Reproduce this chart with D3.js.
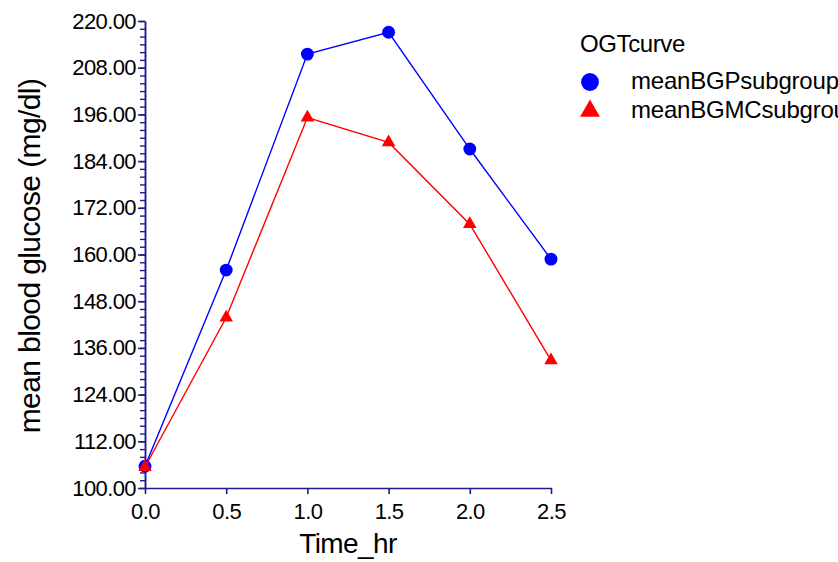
<!DOCTYPE html>
<html>
<head>
<meta charset="utf-8">
<script src="https://cdn.jsdelivr.net/npm/d3@7/dist/d3.min.js"></script>
<style>
  html, body { margin: 0; padding: 0; background: #ffffff; }
  svg { display: block; font-family: "Liberation Sans", Arial, sans-serif; }
</style>
</head>
<body>
<svg id="chart" width="838" height="562"></svg>
<script>
// Oral glucose tolerance curve: mean blood glucose per subgroup over time
const timeHr = [0.0, 0.5, 1.0, 1.5, 2.0, 2.5];
const meanBGPsubgroup = [105.6, 156.0, 211.5, 217.1, 187.1, 158.8];
const meanBGMCsubgroup = [105.4, 143.8, 195.2, 188.8, 167.8, 132.8];
const seriesNames = ["meanBGPsubgroup", "meanBGMCsubgroup"];
const yMajorTicks = [100, 112, 124, 136, 148, 160, 172, 184, 196, 208, 220];
const xTicks = [0.0, 0.5, 1.0, 1.5, 2.0, 2.5];

const axisColor = "#1c1c8c";
const svg = d3.select("#chart");

const x = d3.scaleLinear().domain([0, 2.5]).range([145, 551]);
const y = d3.scaleLinear().domain([100, 220]).range([488, 21]);

// minor y ticks every 2 units
const yMinor = d3.axisLeft(y).tickValues(d3.range(100, 221, 2)).tickSize(5).tickSizeOuter(0).tickFormat("");
svg.append("g").attr("transform", "translate(145,0)").call(yMinor)
  .call(g => g.selectAll("line,path").attr("stroke", axisColor).attr("stroke-width", 1.4));

// major y ticks with labels
const yAxis = d3.axisLeft(y).tickValues(yMajorTicks).tickSize(7).tickSizeOuter(0).tickPadding(2)
  .tickFormat(d3.format(".2f"));
svg.append("g").attr("transform", "translate(145,0)").call(yAxis)
  .call(g => g.selectAll("line,path").attr("stroke", axisColor).attr("stroke-width", 1.6))
  .call(g => g.selectAll("text").attr("fill", "#000").style("font-size", "22px")
    .style("letter-spacing", "-0.6px").attr("font-family", null));

// x axis
const xAxis = d3.axisBottom(x).tickValues(xTicks).tickSize(6).tickSizeOuter(0).tickPadding(9)
  .tickFormat(d3.format(".1f"));
svg.append("g").attr("transform", "translate(0,488)").call(xAxis)
  .call(g => g.selectAll("line,path").attr("stroke", axisColor).attr("stroke-width", 1.6))
  .call(g => g.selectAll("text").attr("fill", "#000").style("font-size", "22px")
    .style("letter-spacing", "-0.6px").attr("font-family", null));

// axis titles
svg.append("text")
  .attr("transform", "translate(40,256) rotate(-90)")
  .attr("text-anchor", "middle")
  .style("font-size", "30px").style("letter-spacing", "-0.6px")
  .text("mean blood glucose (mg/dl)");

svg.append("text")
  .attr("x", 348).attr("y", 553)
  .attr("text-anchor", "middle")
  .style("font-size", "28px").style("letter-spacing", "-0.6px")
  .text("Time_hr");

// series
const series = [
  { name: seriesNames[0], values: meanBGPsubgroup, color: "#0000ff", symbol: d3.symbolCircle, size: 130, legendSize: 250 },
  { name: seriesNames[1], values: meanBGMCsubgroup, color: "#ff0000", symbol: d3.symbolTriangle, size: 80, legendSize: 170 }
];

const line = d3.line().x((d, i) => x(timeHr[i])).y(d => y(d));

series.forEach(s => {
  svg.append("path")
    .attr("d", line(s.values))
    .attr("fill", "none")
    .attr("stroke", s.color)
    .attr("stroke-width", 1.4);
  svg.append("g").selectAll("path")
    .data(s.values)
    .join("path")
    .attr("transform", (d, i) => `translate(${x(timeHr[i])},${y(d)})`)
    .attr("d", d3.symbol().type(s.symbol).size(s.size))
    .attr("fill", s.color);
});

// legend
const legend = svg.append("g");
legend.append("text")
  .attr("x", 580).attr("y", 52)
  .style("font-size", "24px").style("letter-spacing", "-0.4px")
  .text("OGTcurve");

series.forEach((s, i) => {
  const cy = 82 + i * 29;
  legend.append("path")
    .attr("transform", `translate(590,${cy})`)
    .attr("d", d3.symbol().type(s.symbol).size(s.legendSize))
    .attr("fill", s.color);
  legend.append("text")
    .attr("x", 631).attr("y", cy + 7)
    .style("font-size", "24px").style("letter-spacing", "-0.2px")
    .text(s.name);
});
</script>
</body>
</html>
